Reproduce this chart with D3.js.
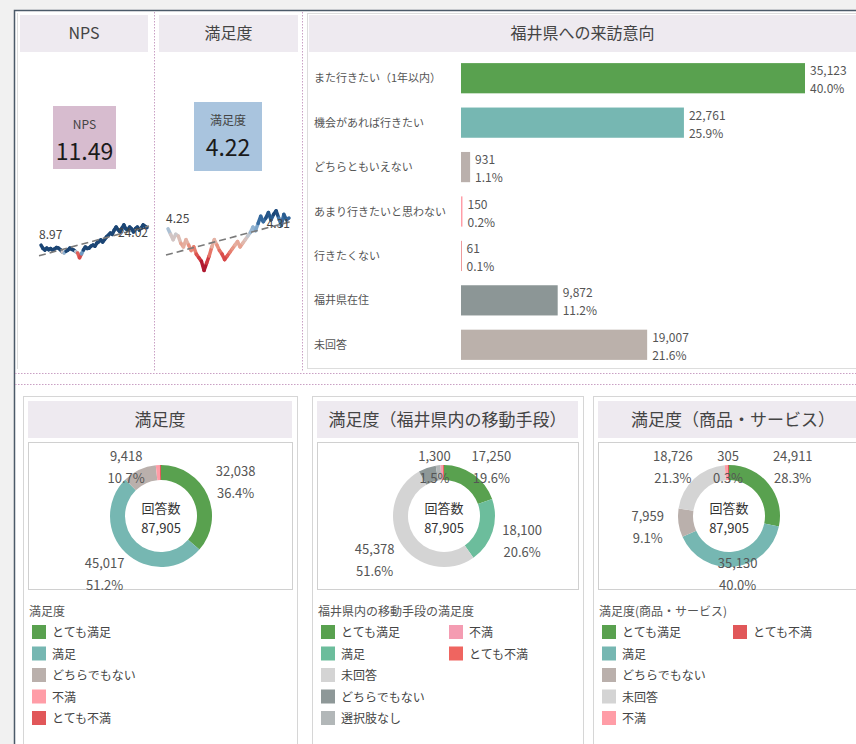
<!DOCTYPE html>
<html>
<head>
<meta charset="utf-8">
<script src="https://cdn.jsdelivr.net/npm/d3@7"></script>
<style>
  body { margin: 0; background: #f1f1f1; }
  svg { display: block; font-family: "Noto Sans CJK JP", "Noto Sans", sans-serif; }
</style>
</head>
<body>
<script>
// ---- data ----
const npsValue = 11.49;
const satValue = 4.22;

// monthly NPS (sparkline), first and last labelled
const npsSeries = [8.97, 6.2, 4.8, 6.5, 5.1, 6.0, 4.8, 5.7, 6.9, 6.5, 5.2, 3.1, 2.3, 3.8, 4.8, 6.5,
  5.4, 4.8, 3.5, 2.3, -1.8, 1.5, 4.8, 7.4, 6.1, 6.5, 8.2, 9.0, 8.1, 10.8, 12.0, 13.4, 11.6, 13.9,
  16.0, 17.5, 19.3, 18.2, 21.9, 24.4, 22.1, 20.2, 23.5, 26.2, 23.0, 21.9, 24.4, 22.8, 20.2, 23.1,
  24.4, 21.9, 23.7, 26.2, 25.0, 24.02];
// monthly satisfaction (sparkline)
const satSeries = [4.25, 4.22, 4.19, 4.22, 4.21, 4.17, 4.15, 4.19, 4.16, 4.13, 4.15, 4.11, 4.09,
  4.07, 4.02, 4.06, 4.10, 4.15, 4.19, 4.16, 4.13, 4.11, 4.08, 4.10, 4.12, 4.14, 4.16, 4.18, 4.15,
  4.17, 4.19, 4.21, 4.23, 4.26, 4.24, 4.28, 4.32, 4.29, 4.31, 4.34, 4.30, 4.33, 4.35, 4.31, 4.27,
  4.33, 4.30, 4.31];

// 福井県への来訪意向
const visitCats = ['また行きたい（1年以内）', '機会があれば行きたい', 'どちらともいえない',
  'あまり行きたいと思わない', '行きたくない', '福井県在住', '未回答'];
const visitValues = [35123, 22761, 931, 150, 61, 9872, 19007];

// 満足度
const satCats = ['とても満足', '満足', 'どちらでもない', '不満', 'とても不満'];
const satCounts = [32038, 45017, 9418, 1100, 332];
const satLabelled = ['とても満足', '満足', 'どちらでもない'];

// 満足度（福井県内の移動手段）
const moveCats = ['とても満足', '満足', '未回答', 'どちらでもない', '選択肢なし', '不満', 'とても不満'];
const moveCounts = [17250, 18100, 45378, 4900, 1300, 600, 377];
const moveLabelled = ['とても満足', '満足', '未回答', '選択肢なし'];

// 満足度（商品・サービス）
const goodsCats = ['とても満足', '満足', 'どちらでもない', '未回答', '不満', 'とても不満'];
const goodsCounts = [24911, 35130, 7959, 18726, 874, 305];
const goodsLabelled = ['とても満足', '満足', 'どちらでもない', '未回答', 'とても不満'];

// ---- styles ----
const visitColors = {
  'また行きたい（1年以内）': '#59a14f', '機会があれば行きたい': '#76b7b2', 'どちらともいえない': '#bab0ac',
  'あまり行きたいと思わない': '#ff9da7', '行きたくない': '#e15759', '福井県在住': '#8c9696', '未回答': '#bbb1ab'
};
const satColors = {
  'とても満足': '#59a14f', '満足': '#76b7b2', 'どちらでもない': '#bab0ac', '未回答': '#d4d4d4',
  '不満': '#ff9da7', 'とても不満': '#e15759'
};
const moveColors = {
  'とても満足': '#59a14f', '満足': '#6cbd9c', '未回答': '#d4d4d4', 'どちらでもない': '#8e9898',
  '選択肢なし': '#b2b7b8', '不満': '#f49cb2', 'とても不満': '#ef6560'
};
const bandFill = '#eeeaf0';
const textGray = '#555';
const dotted = '#c9a0c4';
const fmtInt = d3.format(',');
const fmtPct = d3.format('.1%');

const svg = d3.select('body').append('svg')
  .attr('width', 856).attr('height', 744);

// dashboard frame
svg.append('rect').attr('x', 14).attr('y', 10).attr('width', 842).attr('height', 734).attr('fill', '#fff');
svg.append('path').attr('d', 'M14.5,744V10.5H856').attr('fill', 'none').attr('stroke', '#4b5a69').attr('stroke-width', 1.5);

// ---- top row ----
svg.append('line').attr('x1', 17.5).attr('x2', 17.5).attr('y1', 13).attr('y2', 369).attr('stroke', '#ddd');
[154.5, 302.5].forEach(x => svg.append('line')
  .attr('x1', x).attr('x2', x).attr('y1', 12).attr('y2', 372)
  .attr('stroke', dotted).attr('stroke-dasharray', '1.5,1.5'));
[373.5, 384.5].forEach(y => svg.append('line')
  .attr('x1', 15).attr('x2', 856).attr('y1', y).attr('y2', y)
  .attr('stroke', dotted).attr('stroke-width', 1.2).attr('stroke-dasharray', '1.5,1.5'));

const titleBand = (x, y, w, h, label, size) => {
  svg.append('rect').attr('x', x).attr('y', y).attr('width', w).attr('height', h).attr('fill', bandFill);
  svg.append('text').attr('x', x + w / 2).attr('y', y + h / 2 + size * 0.36)
    .attr('text-anchor', 'middle').attr('font-size', size).attr('fill', '#444').text(label);
};
titleBand(20, 15, 128, 37, 'NPS', 16);
titleBand(159, 15, 139, 37, '満足度', 16);

// KPI cards
const kpi = (x, y, w, h, fill, label, value) => {
  svg.append('rect').attr('x', x).attr('y', y).attr('width', w).attr('height', h).attr('fill', fill);
  svg.append('text').attr('x', x + w / 2).attr('y', y + 23).attr('text-anchor', 'middle')
    .attr('font-size', 12).attr('fill', '#444').text(label);
  svg.append('text').attr('x', x + w / 2).attr('y', y + 54).attr('text-anchor', 'middle')
    .attr('font-size', 23).attr('fill', '#1a1a1a').text(value);
};
kpi(53, 106, 63, 63, '#d7bccf', 'NPS', npsValue.toFixed(2));
kpi(194, 102, 68, 69, '#a9c4de', '満足度', satValue.toFixed(2));

// sparklines with diverging colour and dashed trend line
const divInterp = d3.interpolateRgbBasis(['#9b0a2a', '#d8343a', '#f19a7e', '#d6d6d6', '#8fb6d8', '#2f69a3', '#1c4675']);
const sparkline = (series, xRange, yScale, colorScale, digits) => {
  const x = d3.scaleLinear().domain([0, series.length - 1]).range(xRange);
  const pts = series.map((v, i) => ({i, v}));
  const g = svg.append('g');
  g.selectAll('line.seg').data(d3.pairs(pts)).join('line')
    .attr('class', 'seg')
    .attr('x1', d => x(d[0].i)).attr('y1', d => yScale(d[0].v))
    .attr('x2', d => x(d[1].i)).attr('y2', d => yScale(d[1].v))
    .attr('stroke', d => colorScale((d[0].v + d[1].v) / 2))
    .attr('stroke-width', 3.5).attr('stroke-linecap', 'round');
  // least squares trend
  const mx = d3.mean(pts, d => d.i), my = d3.mean(pts, d => d.v);
  const slope = d3.sum(pts, d => (d.i - mx) * (d.v - my)) / d3.sum(pts, d => (d.i - mx) ** 2);
  const fit = i => my + slope * (i - mx);
  const n = series.length - 1;
  g.append('line')
    .attr('x1', x(0) - 2).attr('y1', yScale(fit(0)))
    .attr('x2', x(n) + 2).attr('y2', yScale(fit(n)))
    .attr('stroke', '#7a7a7a').attr('stroke-width', 1.6).attr('stroke-dasharray', '7,4');
  g.append('text').attr('x', x(0) - 2).attr('y', yScale(series[0]) - 6)
    .attr('font-size', 12).attr('fill', '#444').text(series[0].toFixed(digits));
  g.append('text').attr('x', x(n) + 1).attr('y', yScale(series[n]) + 10).attr('text-anchor', 'end')
    .attr('font-size', 12).attr('fill', '#444').text(series[n].toFixed(digits));
};
sparkline(npsSeries, [41, 147],
  d3.scaleLinear().domain([-2, 27]).range([258, 224]),
  d3.scaleDiverging().domain([-2, 2.8, 3.6]).interpolator(divInterp).clamp(true), 2);
sparkline(satSeries, [168, 289],
  d3.scaleLinear().domain([4.0, 4.36]).range([274, 209]),
  d3.scaleDiverging().domain([4.02, 4.21, 4.34]).interpolator(divInterp).clamp(true), 2);

// ---- 来訪意向 bar chart ----
svg.append('rect').attr('x', 307.5).attr('y', 13.5).attr('width', 560).attr('height', 355)
  .attr('fill', 'none').attr('stroke', '#ddd');
titleBand(309, 15, 547, 37, '福井県への来訪意向', 16);

const visitTotal = d3.sum(visitValues);
const yBand = d3.scaleBand().domain(visitCats).range([56, 367]).paddingInner(0.32).paddingOuter(0.16);
const xBar = d3.scaleLinear().domain([0, d3.max(visitValues)]).range([461, 805]);
const visit = visitCats.map((c, i) => ({c, v: visitValues[i]}));

const barG = svg.append('g');
barG.selectAll('rect').data(visit).join('rect')
  .attr('x', xBar(0)).attr('y', d => yBand(d.c))
  .attr('width', d => xBar(d.v) - xBar(0)).attr('height', yBand.bandwidth())
  .attr('fill', d => visitColors[d.c]);
barG.selectAll('text.cat').data(visit).join('text')
  .attr('class', 'cat').attr('x', 314).attr('y', d => yBand(d.c) + yBand.bandwidth() / 2 + 4)
  .attr('font-size', 11).attr('fill', textGray).text(d => d.c);
barG.selectAll('text.val').data(visit).join('text')
  .attr('class', 'val').attr('x', d => xBar(d.v) + 5).attr('y', d => yBand(d.c) + yBand.bandwidth() / 2 - 3)
  .attr('font-size', 12).attr('fill', textGray).text(d => fmtInt(d.v));
barG.selectAll('text.pct').data(visit).join('text')
  .attr('class', 'pct').attr('x', d => xBar(d.v) + 5).attr('y', d => yBand(d.c) + yBand.bandwidth() / 2 + 15)
  .attr('font-size', 12).attr('fill', textGray).text(d => fmtPct(d.v / visitTotal));

// ---- donut panels ----
const donutPanel = (cfg) => {
  const {x, w, cxOff, title, legendTitle, cats, counts, labelled, colors, perCol, colW} = cfg;
  const top = 396.5, boxTop = 442.5, boxBottom = 589.5, cy = 516;
  svg.append('rect').attr('x', x + 0.5).attr('y', top).attr('width', w).attr('height', 350)
    .attr('fill', '#fff').attr('stroke', '#d6d6d6');
  titleBand(x + 5, 401, w - 10, 37, title, 17);
  svg.append('rect').attr('x', x + 5.5).attr('y', boxTop).attr('width', w - 10).attr('height', boxBottom - boxTop)
    .attr('fill', '#fff').attr('stroke', '#d0d0d0');

  const cx = x + cxOff;
  const total = d3.sum(counts);
  const data = cats.map((c, i) => ({c, v: counts[i]}));
  const arcs = d3.pie().sort(null).value(d => d.v)(data);
  const arc = d3.arc().innerRadius(36).outerRadius(51);
  const g = svg.append('g').attr('transform', `translate(${cx},${cy})`);
  g.selectAll('path').data(arcs).join('path').attr('d', arc).attr('fill', d => colors[d.data.c]);
  g.append('text').attr('y', -3).attr('text-anchor', 'middle').attr('font-size', 13).attr('fill', '#333').text('回答数');
  g.append('text').attr('y', 17).attr('text-anchor', 'middle').attr('font-size', 13).attr('fill', '#333').text(fmtInt(total));

  // slice labels: value + share, pushed out along the slice middle
  const lab = arcs.filter(d => labelled.includes(d.data.c)).map(d => {
    const a = (d.startAngle + d.endAngle) / 2;
    const ly = Math.max(boxTop + 24, Math.min(boxBottom - 16, cy - 82 * Math.cos(a)));
    return {d, lx: cx + 82 * Math.sin(a), ly};
  });
  const lg = svg.append('g');
  lab.forEach(l => {
    lg.append('text').attr('x', l.lx).attr('y', l.ly - 6).attr('text-anchor', 'middle')
      .attr('font-size', 13).attr('fill', textGray).text(fmtInt(l.d.data.v));
    lg.append('text').attr('x', l.lx).attr('y', l.ly + 16).attr('text-anchor', 'middle')
      .attr('font-size', 13).attr('fill', textGray).text(fmtPct(l.d.data.v / total));
  });

  // legend
  svg.append('text').attr('x', x + 6).attr('y', 616).attr('font-size', 12).attr('fill', textGray).text(legendTitle);
  const leg = svg.append('g').selectAll('g').data(cats).join('g')
    .attr('transform', (c, i) => `translate(${x + 9 + Math.floor(i / perCol) * colW},${632 + (i % perCol) * 21.5})`);
  leg.append('rect').attr('x', 0).attr('y', -7).attr('width', 14).attr('height', 14).attr('fill', c => colors[c]);
  leg.append('text').attr('x', 20).attr('y', 5).attr('font-size', 12).attr('fill', '#444').text(c => c);
};

donutPanel({x: 23, w: 274, cxOff: 138, title: '満足度', legendTitle: '満足度',
  cats: satCats, counts: satCounts, labelled: satLabelled, colors: satColors, perCol: 5, colW: 130});
donutPanel({x: 312, w: 271, cxOff: 132, title: '満足度（福井県内の移動手段）', legendTitle: '福井県内の移動手段の満足度',
  cats: moveCats, counts: moveCounts, labelled: moveLabelled, colors: moveColors, perCol: 5, colW: 128});
donutPanel({x: 593, w: 280, cxOff: 136, title: '満足度（商品・サービス）', legendTitle: '満足度(商品・サービス)',
  cats: goodsCats, counts: goodsCounts, labelled: goodsLabelled, colors: satColors, perCol: 5, colW: 131});
</script>
</body>
</html>
